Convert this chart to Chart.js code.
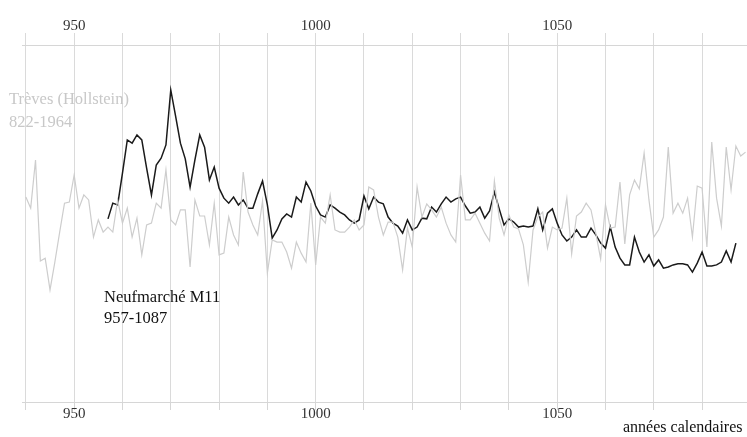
<!DOCTYPE html>
<html lang="fr">
<head>
<meta charset="utf-8">
<script src="https://cdn.jsdelivr.net/npm/chart.js@4"></script>
<style>
  body { margin: 0; background: #fff; }
  #boite { width: 747px; height: 437px; position: relative; }
</style>
</head>
<body>
<div id="boite"><canvas id="grafico"></canvas></div>
<script>
// Années de début des deux séries
const debutTreves = 940;
const debutNeuf = 957;

// Trèves (Hollstein) 822-1964 (940-1089)
const treves = [
  57.4, 54.3, 67.8, 39.5, 40.3, 31.4, 39.2, 47.6, 55.7, 56.0,
  63.6, 54.3, 58.0, 56.6, 46.2, 51.0, 47.6, 49.0, 47.6, 56.6,
  50.1, 54.3, 46.2, 51.5, 41.2, 49.6, 50.1, 55.7, 54.3, 65.0,
  51.0, 49.6, 53.8, 53.8, 37.8, 56.6, 52.1, 52.1, 44.0, 55.7,
  41.2, 41.7, 51.8, 46.8, 44.0, 64.4, 53.2, 49.6, 46.8, 56.3,
  36.1, 45.4, 44.8, 44.8, 42.0, 37.5, 44.8, 41.7, 39.2, 55.7,
  38.4, 51.8, 50.1, 58.0, 48.2, 47.6, 47.6, 49.0, 51.0, 48.2,
  49.6, 60.2, 59.4, 51.8, 46.8, 50.4, 50.4, 46.2, 37.0, 48.7,
  43.4, 60.2, 51.8, 55.5, 53.8, 51.8, 54.6, 50.1, 46.8, 44.8,
  63.6, 51.0, 51.0, 52.9, 50.1, 47.3, 45.1, 61.9, 51.5, 46.8,
  52.4, 49.0, 48.5, 44.0, 33.6, 48.2, 51.8, 53.2, 43.1, 49.0,
  48.2, 48.7, 57.1, 41.5, 52.1, 53.2, 55.7, 53.8, 47.3, 40.1,
  55.2, 48.7, 49.0, 61.6, 44.3, 58.0, 62.2, 59.7, 69.7, 56.6,
  46.2, 48.2, 51.8, 71.4, 52.9, 55.7, 52.9, 57.1, 46.2, 60.5,
  59.9, 43.4, 72.8, 57.1, 49.3, 71.4, 59.4, 71.7, 68.9, 70.0
];

// Neufmarché M11 957-1087
const neufmarche = [
  51.3, 55.7, 55.2, 64.1, 73.4, 72.5, 74.8, 73.4, 65.5, 58.0,
  66.4, 68.3, 72.0, 87.4, 80.1, 72.5, 68.1, 60.2, 67.8, 74.8,
  71.4, 62.2, 65.8, 59.9, 57.1, 55.7, 57.4, 55.2, 56.6, 54.3,
  54.3, 58.3, 61.9, 55.2, 45.9, 48.2, 51.3, 52.7, 51.8, 57.4,
  56.0, 61.6, 59.1, 54.9, 52.4, 51.8, 55.2, 54.3, 53.2, 52.4,
  51.0, 50.1, 51.0, 57.7, 54.1, 57.4, 56.0, 55.5, 51.8, 50.1,
  49.3, 47.3, 51.0, 48.2, 49.0, 51.5, 51.3, 54.6, 53.2, 55.5,
  57.4, 56.0, 56.9, 57.4, 54.9, 52.9, 53.2, 54.6, 51.5, 53.5,
  58.8, 54.1, 49.6, 51.3, 50.4, 49.0, 49.3, 49.0, 49.3, 54.1,
  48.2, 52.9, 54.1, 50.1, 46.8, 45.1, 46.2, 48.2, 46.2, 46.2,
  48.7, 46.8, 44.5, 43.1, 49.0, 43.4, 40.3, 38.4, 38.4, 46.2,
  42.0, 39.2, 41.2, 38.1, 39.8, 37.5, 37.8, 38.4, 38.7, 38.7,
  38.4, 36.4, 38.9, 42.0, 38.1, 38.1, 38.4, 39.2, 42.3, 39.2,
  44.5
];

// Graduations (traits tous les 10 ans) et années écrites
const graduations = [940, 950, 960, 970, 980, 990, 1000, 1010, 1020, 1030, 1040, 1050, 1060, 1070, 1080];
const etiquettes = [950, 1000, 1050];
const anneeMin = 939.2;
const anneeMax = 1089.3;

const serif = "'Liberation Serif', 'DejaVu Serif', serif";

function versPoints(debut, valeurs) {
  return valeurs.map((v, i) => ({ x: debut + i, y: v }));
}

function etiquette(valeur) {
  return etiquettes.includes(valeur) ? String(valeur) : '';
}

function poserGraduations(scale) {
  scale.ticks = graduations.map(v => ({ value: v }));
}

// Textes posés sur le graphique
const textes = {
  id: 'textes',
  afterDraw(chart) {
    const ctx = chart.ctx;
    ctx.save();
    ctx.textBaseline = 'alphabetic';
    ctx.textAlign = 'left';
    ctx.font = "16.5px " + serif;
    ctx.fillStyle = '#c8c8c8';
    ctx.fillText('Trèves (Hollstein)', 9, 104);
    ctx.fillText('822-1964', 9, 127);
    ctx.fillStyle = '#111';
    ctx.fillText('Neufmarché M11', 104, 302);
    ctx.fillText('957-1087', 104, 323);
    ctx.font = "16px " + serif;
    ctx.fillText('années calendaires', 623, 432);
    ctx.restore();
  }
};

const ctx = document.getElementById('grafico').getContext('2d');

let meuGrafico = new Chart(ctx, {
  type: 'line',
  data: {
    datasets: [
      {
        label: 'Trèves (Hollstein)',
        data: versPoints(debutTreves, treves),
        borderColor: '#cdcdcd',
        borderWidth: 1.2,
        pointRadius: 0,
        tension: 0
      },
      {
        label: 'Neufmarché M11',
        data: versPoints(debutNeuf, neufmarche),
        borderColor: '#1a1a1a',
        borderWidth: 1.5,
        pointRadius: 0,
        tension: 0
      }
    ]
  },
  options: {
    responsive: true,
    maintainAspectRatio: false,
    animation: false,
    layout: { padding: { left: 22, right: 0, top: 0, bottom: 0 } },
    plugins: {
      legend: { display: false },
      tooltip: { enabled: false }
    },
    scales: {
      x: {
        type: 'linear',
        position: 'bottom',
        min: anneeMin,
        max: anneeMax,
        afterBuildTicks: poserGraduations,
        afterFit(s) { s.height = 35; },
        grid: { drawOnChartArea: false, color: '#d6d6d6', tickLength: 8 },
        border: { color: '#d6d6d6' },
        ticks: {
          autoSkip: false,
          maxRotation: 0,
          padding: -5,
          color: '#333',
          font: { family: serif, size: 15 },
          callback: etiquette
        }
      },
      x2: {
        type: 'linear',
        position: 'top',
        min: anneeMin,
        max: anneeMax,
        afterBuildTicks: poserGraduations,
        afterFit(s) { s.height = 45; },
        grid: { drawOnChartArea: true, color: '#dadada', tickLength: 12 },
        border: { color: '#d6d6d6' },
        ticks: {
          autoSkip: false,
          maxRotation: 0,
          padding: -2,
          color: '#333',
          font: { family: serif, size: 15 },
          callback: etiquette
        }
      },
      y: {
        display: false,
        min: 0,
        max: 100
      }
    }
  },
  plugins: [textes]
});
</script>
</body>
</html>
